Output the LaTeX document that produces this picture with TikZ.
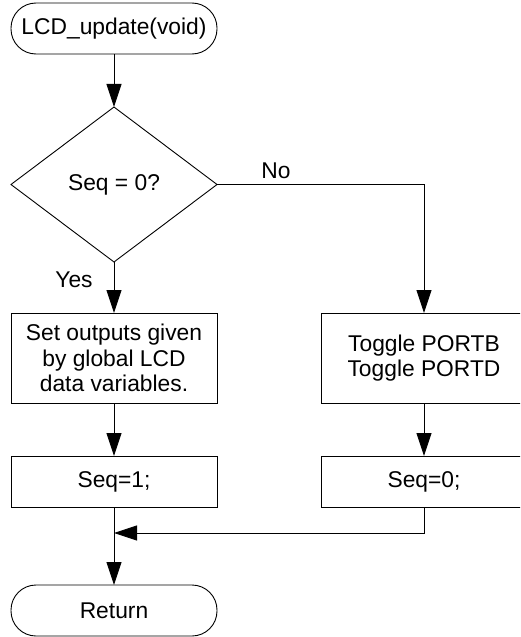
\documentclass[tikz,border=0pt]{standalone}
\usepackage{fontspec}
\setmainfont{Liberation Sans}
\usetikzlibrary{shapes.geometric,arrows.meta}
\begin{document}
\begin{tikzpicture}[x=1pt,y=-1pt,
  font=\fontsize{22.8}{25.5}\selectfont,
  every node/.style={inner sep=0pt,outer sep=0pt},
  term/.style={draw,line width=0.9pt,rectangle,rounded corners=25pt,minimum width=206pt,minimum height=51pt},
  decis/.style={draw,line width=0.9pt,diamond,minimum width=206pt,minimum height=155pt},
  proc/.style={draw,line width=0.9pt,rectangle,align=center},
  conn/.style={line width=0.9pt,-{Triangle[length=23pt,width=15pt]}},
  plain/.style={line width=0.9pt}]
\useasboundingbox (0,0) rectangle (520,637);
\clip (0,0) rectangle (520,637);
\node[term] (start) at (114,28.5) {LCD\_update(void)};
\node[decis] (dec) at (114,184.5) {Seq = 0?};
\node[proc,minimum width=206pt,minimum height=90pt] (set) at (114,358) {Set outputs given\\by global LCD\\data variables.};
\node[proc,minimum width=206pt,minimum height=90pt] (tog) at (424,358) {Toggle PORTB\\Toggle PORTD};
\node[proc,minimum width=206pt,minimum height=51pt] (seq1) at (114,481.5) {Seq=1;};
\node[proc,minimum width=206pt,minimum height=51pt] (seq0) at (424,481.5) {Seq=0;};
\node[term] (ret) at (114,610.5) {Return};
\node (no) at (276,171) {No};
\node (yes) at (74,280) {Yes};
\coordinate (m) at (114,533);
\draw[conn] (start) -- (dec);
\draw[conn] (dec.east) -| (tog.north);
\draw[conn] (dec) -- (set);
\draw[conn] (set) -- (seq1);
\draw[conn] (tog) -- (seq0);
\draw[conn] (seq1) -- (ret);
\draw[conn] (seq0.south) |- (m);
\end{tikzpicture}
\end{document}
